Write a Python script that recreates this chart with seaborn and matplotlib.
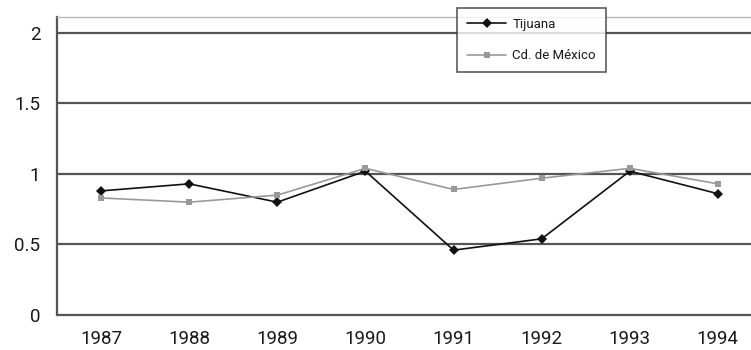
import matplotlib
matplotlib.use("Agg")
import matplotlib.pyplot as plt
import seaborn as sns
import pandas as pd
import numpy as np
from matplotlib.lines import Line2D

years = [1987, 1988, 1989, 1990, 1991, 1992, 1993, 1994]
tijuana = [0.88, 0.93, 0.80, 1.02, 0.46, 0.54, 1.02, 0.86]
mexico = [0.83, 0.80, 0.85, 1.04, 0.89, 0.97, 1.04, 0.93]
series_names = ["Tijuana", "Cd. de México"]
y_ticks = [0, 0.5, 1, 1.5, 2]
y_tick_labels = ["0", "0.5", "1", "1.5", "2"]

sns.set_style("white")
plt.rcParams['font.family'] = ['Roboto', 'DejaVu Sans']

df = pd.DataFrame({
    "year": years * 2,
    "value": tijuana + mexico,
    "series": [series_names[0]] * len(years) + [series_names[1]] * len(years),
})

fig = plt.figure(figsize=(7.51, 3.5), dpi=100)
ax = fig.add_axes([57 / 751, 35 / 350, 705 / 751, 298 / 350])

palette = {series_names[0]: "#111111", series_names[1]: "#999999"}
markers = {series_names[0]: "D", series_names[1]: "s"}
sns.lineplot(data=df, x="year", y="value", hue="series", style="series",
             palette=palette, markers=markers, dashes=False, markersize=5,
             linewidth=1.2, markeredgewidth=0, ax=ax, legend=False, zorder=3)

ax.set_xlim(1986.5, 1994.5)
ax.set_ylim(0, 2.113)
ax.set_xticks(years)
ax.set_xticklabels([str(y) for y in years])
ax.set_xticks(np.arange(1986.5, 1995, 1.0), minor=True)
ax.tick_params(axis="x", which="major", length=0, labelsize=13.5, pad=11, colors="#1a1a1a")
ax.tick_params(axis="x", which="minor", length=4, width=1.2, color="#555555", direction="out")
ax.set_yticks(y_ticks)
ax.set_yticklabels(y_tick_labels)
ax.tick_params(axis="y", length=5, width=1.2, color="#555555", labelsize=13.5, pad=7, labelcolor="#1a1a1a")
ax.set_xlabel("")
ax.set_ylabel("")

for v in y_ticks[1:]:
    ax.axhline(v, color="#555555", linewidth=1.6, zorder=1)

for s in ["left", "bottom"]:
    ax.spines[s].set_color("#555555")
    ax.spines[s].set_linewidth(1.6)
ax.spines["top"].set_color("#bbbbbb")
ax.spines["top"].set_linewidth(1.0)
ax.spines["right"].set_visible(False)

handles = [
    Line2D([], [], color="#111111", marker="D", markersize=5, markeredgewidth=0, linewidth=1.2),
    Line2D([], [], color="#999999", marker="s", markersize=5, markeredgewidth=0, linewidth=1.2),
]
leg = ax.legend(handles, series_names, loc="upper left",
                bbox_to_anchor=((457 - 57) / 705, 1 - (8 - 17) / 298),
                bbox_transform=ax.transAxes,
                prop={"size": 9.5}, frameon=True, fancybox=False,
                handlelength=3.0, borderpad=0.75, labelspacing=1.4,
                handletextpad=0.45, borderaxespad=0)
leg.get_frame().set_edgecolor("#333333")
leg.get_frame().set_linewidth(1.2)
leg.set_zorder(5)
for t in leg.get_texts():
    t.set_color("#1a1a1a")

fig.savefig("out.png", dpi=100)
